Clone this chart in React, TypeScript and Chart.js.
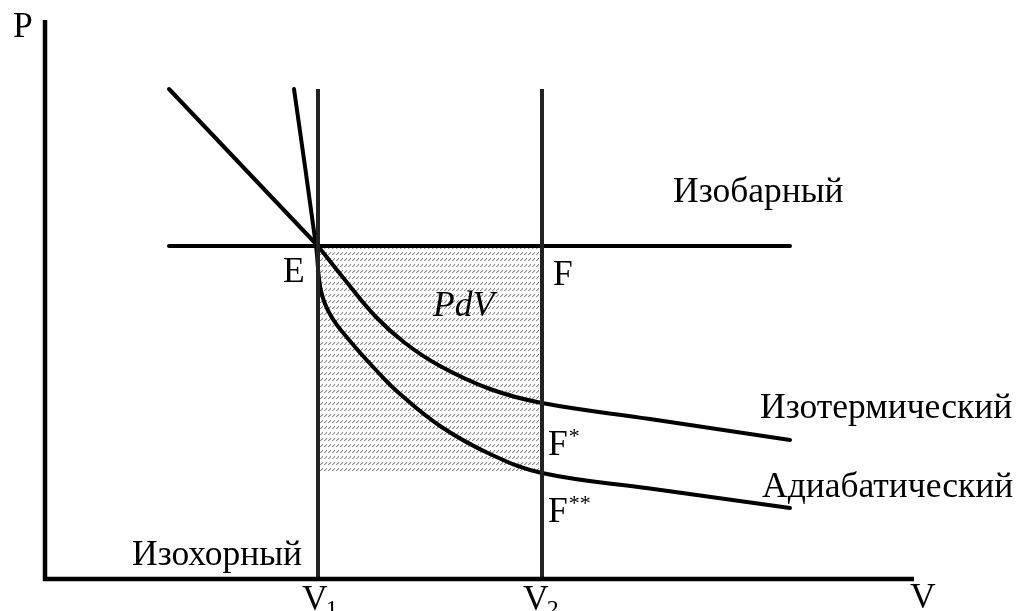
import React, { useEffect, useRef } from "react";
import { Chart, registerables } from "chart.js";

Chart.register(...registerables);

// Key volumes and pressures (arbitrary units, origin at the axes corner)
const V1 = 27.3;
const V2 = 49.7;
const P_E = 33.3; // isobar pressure (points E, F)
const P_F1 = 17.6; // isotherm at V2 (F*)
const P_F2 = 10.6; // adiabat at V2 (F**)
const V_TOP = 49.0; // top of the isochores
const P_AXIS_TOP = 55.9;
const V_AXIS_END = 86.9;

// Isobar
const isobarV = [12.4, 74.5];

// Isotherm: straight extension above E, then curve
const isoExtV = [12.4, 27.3];
const isoExtP = [49.0, 33.3];
const isothermV = [27.3, 30.0, 33.0, 36.0, 39.5, 44.5, 49.7, 60.5, 74.5];
const isothermP = [33.3, 29.9, 26.3, 23.6, 21.3, 19.0, P_F1, 16.0, 13.9];

// Adiabat
const adiabatV = [24.9, 27.1, 27.6, 28.6, 30.5, 33.0, 35.5, 39.5, 44.5, 49.7, 60.5, 74.5];
const adiabatP = [49.0, 33.3, 28.8, 26.3, 23.8, 21.0, 18.5, 15.3, 12.5, P_F2, 9.05, 7.1];

// Text labels
type Label = { text: string; v: number; p: number; sup?: string; sub?: string; italic?: boolean };
const labels: Label[] = [
  { text: "P", v: -3.2, p: 54.2 },
  { text: "V", v: 86.5, p: -2.9 },
  { text: "V", v: 25.7, p: -3.1, sub: "1" },
  { text: "V", v: 47.8, p: -3.1, sub: "2" },
  { text: "E", v: 23.8, p: 29.7 },
  { text: "F", v: 50.8, p: 29.4 },
  { text: "F", v: 50.3, p: 12.4, sup: "*" },
  { text: "F", v: 50.3, p: 5.7, sup: "**" },
  { text: "PdV", v: 38.8, p: 26.3, italic: true },
  { text: "Изобарный", v: 62.8, p: 37.7 },
  { text: "Изотермический", v: 71.5, p: 16.1 },
  { text: "Адиабатический", v: 71.7, p: 8.2 },
  { text: "Изохорный", v: 8.7, p: 1.4 },
];

const pts = (xs: number[], ys: number[]) => xs.map((x, i) => ({ x, y: ys[i] }));

function makePattern(): CanvasPattern | string {
  const c = document.createElement("canvas");
  c.width = 4;
  c.height = 6;
  const g = c.getContext("2d");
  if (!g) return "#ccc";
  g.fillStyle = "#ffffff";
  g.fillRect(0, 0, 4, 6);
  g.fillStyle = "#8a8a8a";
  g.fillRect(0, 2, 1, 1);
  g.fillRect(1, 1, 1, 1);
  g.fillRect(2, 0, 1, 1);
  g.fillStyle = "#cfcfcf";
  g.fillRect(1, 2, 1, 1);
  g.fillRect(2, 1, 1, 1);
  const p = g.createPattern(c, "repeat");
  return p || "#ccc";
}

const labelPlugin = {
  id: "labels",
  afterDatasetsDraw(chart: any) {
    const { ctx, scales } = chart;
    const fam = "'Liberation Serif', 'Times New Roman', serif";
    ctx.save();
    ctx.fillStyle = "#000";
    ctx.textBaseline = "alphabetic";
    ctx.textAlign = "left";
    for (const l of labels) {
      const x = scales.x.getPixelForValue(l.v);
      const y = scales.y.getPixelForValue(l.p);
      ctx.font = `${l.italic ? "italic " : ""}35.5px ${fam}`;
      ctx.fillText(l.text, x, y);
      const w = ctx.measureText(l.text).width;
      if (l.sup) {
        ctx.font = `22px ${fam}`;
        ctx.fillText(l.sup, x + w + 1, y - 12);
      }
      if (l.sub) {
        ctx.font = `24px ${fam}`;
        ctx.fillText(l.sub, x + w - 2, y + 6);
      }
    }
    ctx.restore();
  },
};

export default function App() {
  const ref = useRef<HTMLCanvasElement | null>(null);
  useEffect(() => {
    if (!ref.current) return;
    const pattern = makePattern();
    const line = (data: any[], extra: any = {}) => ({
      data,
      showLine: true,
      pointRadius: 0,
      borderColor: "#000",
      borderWidth: 4,
      fill: false,
      borderCapStyle: "round",
      ...extra,
    });
    const chart = new Chart(ref.current, {
      type: "scatter",
      data: {
        datasets: [
          line(pts([V1, V2], [P_E, P_E]), {
            borderWidth: 0,
            borderColor: "rgba(0,0,0,0)",
            backgroundColor: pattern,
            fill: { value: P_F2 },
            order: 10,
          }),
          line(pts([0, 0, V_AXIS_END], [P_AXIS_TOP, 0, 0]), { borderWidth: 4.5, borderCapStyle: "butt", borderJoinStyle: "miter" }),
          line(pts([V1, V1], [0, V_TOP]), { borderColor: "#222", borderCapStyle: "butt" }),
          line(pts([V2, V2], [0, V_TOP]), { borderColor: "#222", borderCapStyle: "butt" }),
          line(pts(isobarV, [P_E, P_E])),
          line(pts(isoExtV, isoExtP)),
          line(pts(isothermV, isothermP), { tension: 0.4 }),
          line(pts(adiabatV, adiabatP), { tension: 0.4 }),
        ],
      },
      options: {
        animation: false,
        responsive: false,
        events: [],
        layout: { padding: 0 },
        plugins: { legend: { display: false }, tooltip: { enabled: false } },
        scales: {
          x: { type: "linear", min: -4.5, max: 97.2, display: false },
          y: { type: "linear", min: -3.2, max: 57.9, display: false },
        },
      },
      plugins: [labelPlugin],
    } as any);
    return () => chart.destroy();
  }, []);
  return (
    <canvas
      ref={ref}
      width={1017}
      height={611}
      style={{ position: "fixed", left: 0, top: 0, width: 1017, height: 611, display: "block", background: "#fff" }}
    />
  );
}
